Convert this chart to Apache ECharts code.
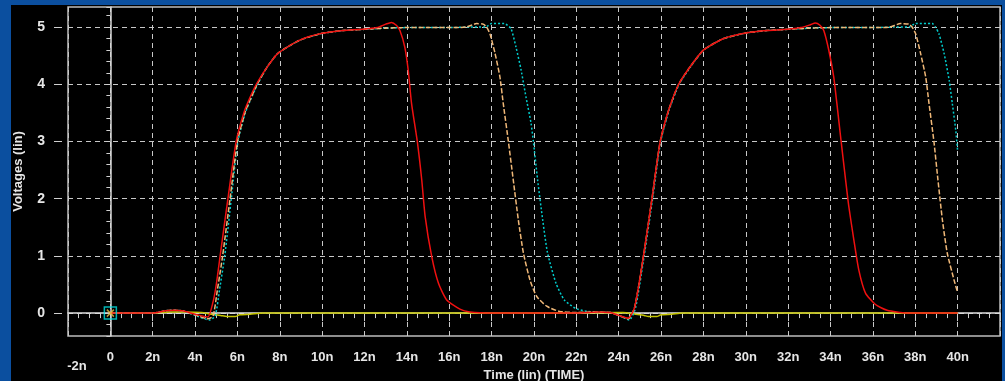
<!DOCTYPE html>
<html>
<head>
<meta charset="utf-8">
<script src="https://cdn.jsdelivr.net/npm/echarts@6/dist/echarts.min.js"></script>
<style>
body { margin: 0; }
#wrap { position: relative; width: 1005px; height: 381px; background: #0b4f9f; overflow: hidden; }
#bg { position: absolute; left: 11px; top: 5px; width: 991px; height: 376px; background: #000; }
#myChart { position: absolute; left: 0; top: 0; width: 1005px; height: 381px; }
</style>
</head>
<body>
<div id="wrap">
    <div id="bg"></div>
    <div id="myChart"></div>
</div>
<script>
// 数据 (time in n, voltage in V)
let redT = [0, 2.0, 2.6, 3.0, 3.4, 4.0, 4.6, 4.85, 5.0, 5.2, 5.55, 5.94, 6.3, 6.57, 6.89, 7.4, 7.91, 8.94, 10.0, 11.0, 11.9, 12.6, 13.0, 13.27, 13.5, 13.67, 13.9, 14.06, 14.22, 14.49, 14.7, 14.86, 15.17, 15.49, 15.88, 16.5, 16.97, 18, 20, 22, 23, 23.6, 24.0, 24.45, 24.75, 25.17, 25.57, 25.96, 26.36, 26.83, 27.38, 28.01, 28.96, 30.06, 31.0, 31.95, 32.6, 33.05, 33.28, 33.5, 33.68, 33.92, 34.15, 34.3, 34.5, 34.71, 34.86, 35.1, 35.33, 35.65, 36.12, 36.67, 37.6, 40]
let redV = [0, 0, 0.04, 0.05, 0.04, -0.02, -0.07, 0.2, 0.5, 1.05, 2.0, 3.0, 3.5, 3.75, 4.0, 4.3, 4.54, 4.77, 4.89, 4.94, 4.96, 4.99, 5.05, 5.08, 5.03, 4.94, 4.65, 4.25, 3.66, 3.0, 2.33, 1.69, 0.99, 0.52, 0.23, 0.07, 0.02, 0, 0, 0, 0.02, 0.01, -0.04, -0.09, 0.1, 1.0, 2.0, 3.0, 3.55, 4.0, 4.31, 4.6, 4.8, 4.9, 4.94, 4.96, 4.99, 5.04, 5.07, 5.03, 4.94, 4.59, 4.13, 3.66, 3.0, 2.33, 1.87, 1.28, 0.76, 0.35, 0.15, 0.05, 0, 0]

let tanT = [0, 2, 2.6, 3, 3.4, 4, 4.6, 4.85, 5.05, 5.3, 5.65, 6.0, 6.35, 6.6, 6.93, 7.4, 7.91, 8.94, 10, 11, 12, 13, 14, 15, 16, 16.8, 17.29, 17.6, 17.76, 17.92, 18.16, 18.39, 18.55, 18.79, 19.02, 19.26, 19.5, 19.81, 20.13, 20.6, 21.2, 22, 23, 23.6, 24, 24.45, 24.75, 25.17, 25.57, 25.96, 26.36, 26.83, 27.38, 28.01, 28.96, 30.06, 31, 32, 33, 34, 35, 36, 36.8, 37.3, 37.7, 37.85, 38.02, 38.25, 38.49, 38.65, 38.88, 39.07, 39.28, 39.51, 39.83, 40.0]
let tanV = [0, 0, 0.04, 0.05, 0.04, -0.03, -0.1, -0.05, 0.4, 1.0, 2.0, 3.0, 3.5, 3.73, 4.0, 4.3, 4.54, 4.77, 4.89, 4.94, 4.96, 4.98, 4.99, 4.99, 4.99, 5.0, 5.06, 5.05, 5.0, 4.88, 4.54, 4.13, 3.66, 3.0, 2.33, 1.63, 1.05, 0.58, 0.29, 0.12, 0.03, 0.01, 0.02, 0.01, -0.04, -0.1, 0.1, 1.0, 2.0, 3.0, 3.55, 4.0, 4.31, 4.6, 4.8, 4.9, 4.94, 4.96, 4.98, 4.99, 4.99, 4.99, 5.0, 5.06, 5.05, 5.0, 4.88, 4.54, 4.13, 3.66, 3.0, 2.33, 1.63, 1.05, 0.58, 0.36]

let cyanT = [0, 2, 2.6, 3, 3.4, 4.0, 4.68, 4.95, 5.15, 5.4, 5.71, 6.02, 6.37, 6.62, 6.95, 7.4, 7.91, 8.94, 10, 11, 12, 13, 14, 15, 16, 17.0, 17.7, 18.0, 18.6, 18.75, 18.92, 19.15, 19.39, 19.62, 19.86, 19.97, 20.17, 20.41, 20.64, 21.04, 21.43, 21.98, 22.5, 23, 23.6, 24, 24.5, 24.8, 25.2, 25.6, 25.98, 26.38, 26.85, 27.4, 28.01, 28.96, 30.06, 31, 32, 33, 34, 35, 36, 37.0, 37.7, 38.0, 38.8, 38.95, 39.12, 39.36, 39.6, 39.75, 39.91, 40.0]
let cyanV = [0, 0, 0.04, 0.05, 0.04, -0.04, -0.12, -0.05, 0.4, 1.0, 2.0, 3.0, 3.5, 3.73, 4.0, 4.3, 4.54, 4.77, 4.89, 4.94, 4.96, 4.98, 4.99, 4.99, 4.99, 5.0, 5.0, 5.06, 5.06, 5.03, 4.97, 4.65, 4.25, 3.78, 3.32, 3.0, 2.33, 1.63, 1.05, 0.52, 0.23, 0.08, 0.03, 0.02, 0.01, -0.04, -0.12, 0.1, 1.0, 2.0, 3.0, 3.55, 4.0, 4.31, 4.6, 4.8, 4.9, 4.94, 4.96, 4.98, 4.99, 4.99, 4.99, 5.0, 5.0, 5.06, 5.06, 5.0, 4.88, 4.54, 4.07, 3.66, 3.2, 2.83]

let yellowT = [0, 2, 2.8, 3.5, 4.3, 4.8, 5.2, 5.5, 5.9, 6.1, 6.6, 7.2, 20, 24.2, 24.8, 25.2, 25.4, 25.8, 26.0, 26.5, 27.0, 40]
let yellowV = [0, 0, 0.02, 0.02, 0.01, -0.02, -0.04, -0.06, -0.06, -0.03, -0.02, 0, 0, 0.01, -0.02, -0.04, -0.06, -0.06, -0.03, -0.02, 0, 0]

let markT = [0]
let markV = [0]

let yMajor = [0, 1, 2, 3, 4, 5]

function pairs(t, v) {
    return t.map((x, i) => [x, v[i]])
}

let myChart = echarts.init(document.getElementById('myChart'))
let textColor = '#e6e6e6'
let font = { color: textColor, fontSize: 13, fontWeight: 'bold', fontFamily: 'Liberation Sans, Arial, sans-serif' }
let gridLine = { show: true, lineStyle: { color: '#c8c8c8', type: [5, 4], width: 1 } }

let option = {
    animation: false,
    grid: {
        left: 68, right: 5, top: 7, bottom: 45,
        outerBoundsMode: 'none',
        show: true, borderColor: '#bdbdbd', borderWidth: 1.5
    },
    xAxis: {
        type: 'value',
        min: -2, max: 42, interval: 2,
        offset: 4,
        name: 'Time (lin) (TIME)',
        nameLocation: 'middle',
        nameGap: 29,
        nameMoveOverlap: false,
        nameTextStyle: Object.assign({}, font, { verticalAlign: 'top' }),
        axisLine: { lineStyle: { color: '#e0e0e0', width: 1.5 } },
        axisTick: { length: 8, lineStyle: { color: '#d0d0d0' } },
        minorTick: { show: true, splitNumber: 4, length: 5, lineStyle: { color: '#d0d0d0' } },
        axisLabel: Object.assign({}, font, {
            margin: 11,
            showMaxLabel: false,
            formatter: v => v === -2 ? '{low|-2n}' : (v === 0 ? '0' : v + 'n'),
            rich: { low: Object.assign({}, font, { padding: [9, 0, 0, 18] }) }
        }),
        splitLine: gridLine
    },
    yAxis: [
        {
            type: 'value',
            position: 'left',
            min: -0.4, max: 5.35, interval: 0.2,
            offset: 6,
            axisLine: { show: true, lineStyle: { color: '#d8d8d8', width: 1.5 } },
            axisTick: { length: 4, lineStyle: { color: '#d0d0d0' } },
            axisLabel: { show: false },
            splitLine: { show: false }
        },
        {
            type: 'value',
            position: 'left',
            min: -0.4, max: 5.35,
            offset: 6,
            name: 'Voltages (lin)',
            nameLocation: 'middle',
            nameGap: 37,
            nameTextStyle: font,
            axisLine: { show: false },
            axisTick: { show: true, customValues: yMajor, length: 8, lineStyle: { color: '#d0d0d0' } },
            axisLabel: Object.assign({}, font, { customValues: yMajor, margin: 17, fontSize: 14 }),
            splitLine: gridLine
        }
    ],
    series: [
        {
            name: 'yellow', type: 'line', showSymbol: false, smooth: 0.2,
            data: pairs(yellowT, yellowV),
            lineStyle: { color: '#c4c400', width: 1.5 }
        },
        {
            name: 'cyan', type: 'line', showSymbol: false, smooth: 0.2,
            data: pairs(cyanT, cyanV),
            lineStyle: { color: '#00cccc', width: 1.5, type: [2, 2] }
        },
        {
            name: 'tan', type: 'line', showSymbol: false, smooth: 0.2,
            data: pairs(tanT, tanV),
            lineStyle: { color: '#f0b878', width: 1.5, type: [5, 2] }
        },
        {
            name: 'red', type: 'line', showSymbol: false, smooth: 0.2,
            data: pairs(redT, redV),
            lineStyle: { color: '#f01010', width: 1.5 }
        },
        {
            type: 'scatter', symbol: 'rect', symbolSize: 12,
            data: pairs(markT, markV),
            itemStyle: { color: 'rgba(0,0,0,0)', borderColor: '#00e0e0', borderWidth: 1.5 },
            z: 5
        },
        {
            type: 'scatter', symbol: 'path://M0,0L10,10M10,0L0,10', symbolSize: 7,
            data: pairs(markT, markV),
            itemStyle: { color: 'none', borderColor: '#e8c040', borderWidth: 1.5 },
            z: 5
        }
    ]
}
myChart.setOption(option)

window.addEventListener('resize', () => {
    myChart.resize()
})
</script>
</body>
</html>
